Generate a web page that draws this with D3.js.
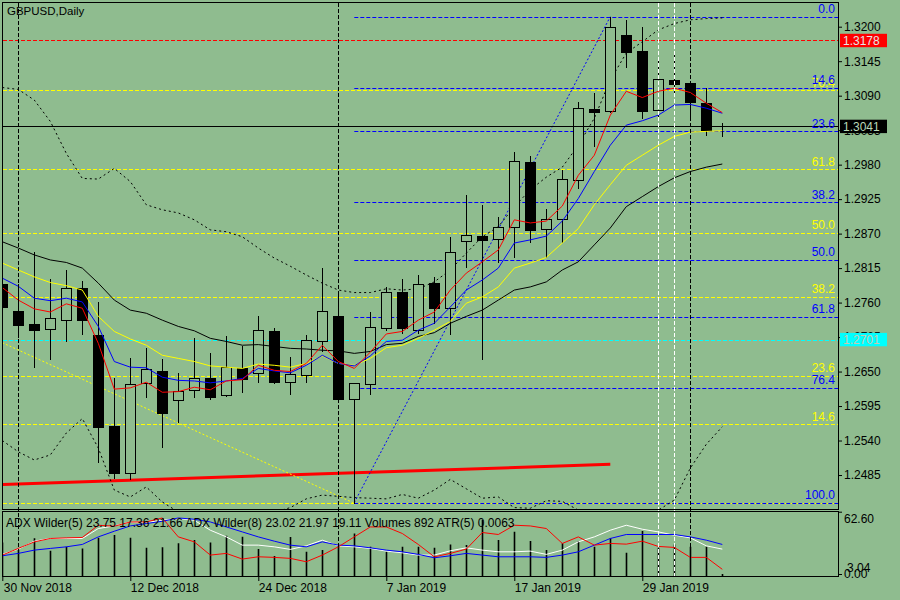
<!DOCTYPE html>
<html><head><meta charset="utf-8">
<script src="https://cdn.jsdelivr.net/npm/d3@7"></script>
<style>
html,body{margin:0;padding:0;background:#8FBC8F;}
svg{display:block;font-family:"Liberation Sans",Arial,sans-serif;}
</style></head><body>
<svg id="c" width="900" height="600"></svg>
<script>
// ---------------- DATA ----------------
const symbolTitle = "GBPUSD,Daily";
const dates = ["2018-11-30","2018-12-03","2018-12-04","2018-12-05","2018-12-06","2018-12-07","2018-12-10","2018-12-11","2018-12-12","2018-12-13","2018-12-14","2018-12-17","2018-12-18","2018-12-19","2018-12-20","2018-12-21","2018-12-24","2018-12-26","2018-12-27","2018-12-28","2018-12-31","2019-01-02","2019-01-03","2019-01-04","2019-01-07","2019-01-08","2019-01-09","2019-01-10","2019-01-11","2019-01-14","2019-01-15","2019-01-16","2019-01-17","2019-01-18","2019-01-21","2019-01-22","2019-01-23","2019-01-24","2019-01-25","2019-01-28","2019-01-29","2019-01-30","2019-01-31","2019-02-01","2019-02-04","2019-02-05"];
const open  = [1.2790,1.2747,1.2726,1.2718,1.2733,1.2784,1.2708,1.2563,1.2488,1.2631,1.2651,1.2604,1.2621,1.2640,1.2612,1.2656,1.2647,1.2715,1.2633,1.2644,1.2699,1.2739,1.2607,1.2630,1.2720,1.2777,1.2717,1.2791,1.2752,1.2858,1.2866,1.2861,1.2881,1.2985,1.2877,1.2893,1.2955,1.3068,1.3066,1.3187,1.3161,1.3067,1.3115,1.3110,1.3078,1.3041];
const high  = [1.2806,1.2790,1.2840,1.2798,1.2812,1.2795,1.2761,1.2640,1.2672,1.2688,1.2670,1.2647,1.2704,1.2679,1.2706,1.2691,1.2739,1.2719,1.2674,1.2708,1.2815,1.2775,1.2632,1.2745,1.2785,1.2797,1.2804,1.2801,1.2865,1.2932,1.2916,1.2897,1.3000,1.2994,1.2910,1.2971,1.3080,1.3094,1.3216,1.3211,1.3199,1.3145,1.3160,1.3112,1.3102,1.3046];
const low   = [1.2740,1.2705,1.2658,1.2670,1.2699,1.2710,1.2506,1.2480,1.2478,1.2610,1.2529,1.2570,1.2610,1.2607,1.2611,1.2618,1.2634,1.2631,1.2614,1.2634,1.2682,1.2605,1.2441,1.2615,1.2717,1.2711,1.2712,1.2727,1.2710,1.2817,1.2670,1.2824,1.2832,1.2857,1.2833,1.2856,1.2942,1.3010,1.3064,1.3136,1.3054,1.3051,1.3096,1.3058,1.3027,1.3026];
const close = [1.2753,1.2725,1.2716,1.2735,1.2784,1.2733,1.2562,1.2489,1.2630,1.2654,1.2584,1.2619,1.2639,1.2610,1.2657,1.2638,1.2717,1.2634,1.2646,1.2700,1.2746,1.2607,1.2631,1.2721,1.2777,1.2719,1.2789,1.2751,1.2840,1.2867,1.2860,1.2880,1.2986,1.2875,1.2893,1.2957,1.3070,1.3064,1.3199,1.3160,1.3066,1.3117,1.3109,1.3080,1.3035,1.3041];

const maRed    = [1.2784,1.2764,1.2750,1.2745,1.2758,1.2751,1.2695,1.2622,1.2624,1.2633,1.2617,1.2618,1.2625,1.2621,1.2635,1.2637,1.2660,1.2652,1.2650,1.2663,1.2692,1.2666,1.2655,1.2681,1.2710,1.2714,1.2732,1.2745,1.2780,1.2807,1.2825,1.2844,1.2892,1.2887,1.2890,1.2914,1.2963,1.2995,1.3059,1.3097,1.3087,1.3097,1.3102,1.3095,1.3078,1.3063];
const maBlue   = [1.2799,1.2786,1.2767,1.2763,1.2767,1.2761,1.2722,1.2666,1.2657,1.2656,1.2641,1.2636,1.2635,1.2632,1.2635,1.2639,1.2655,1.2651,1.2648,1.2660,1.2676,1.2663,1.2659,1.2675,1.2698,1.2700,1.2716,1.2727,1.2753,1.2780,1.2796,1.2815,1.2855,1.2860,1.2866,1.2890,1.2926,1.2969,1.3011,1.3043,1.3050,1.3059,1.3075,1.3076,1.3070,1.3062];
const maYellow = [1.2823,1.2812,1.2801,1.2792,1.2787,1.2780,1.2738,1.2714,1.2702,1.2692,1.2676,1.2671,1.2666,1.2659,1.2657,1.2655,1.2662,1.2660,1.2657,1.2663,1.2675,1.2663,1.2660,1.2671,1.2688,1.2692,1.2703,1.2716,1.2730,1.2759,1.2769,1.2785,1.2815,1.2823,1.2832,1.2855,1.2878,1.2916,1.2948,1.2979,1.2995,1.3011,1.3025,1.3032,1.3033,1.3034];
const maBlack  = [1.2857,1.2847,1.2836,1.2828,1.2824,1.2815,1.2791,1.2764,1.2748,1.2743,1.2732,1.2722,1.2715,1.2703,1.2698,1.2692,1.2693,1.2690,1.2687,1.2686,1.2684,1.2683,1.2679,1.2682,1.2693,1.2695,1.2706,1.2712,1.2727,1.2738,1.2748,1.2764,1.2780,1.2785,1.2793,1.2812,1.2825,1.2852,1.2879,1.2913,1.2929,1.2945,1.2959,1.2969,1.2976,1.2981];
const bandUpper = [1.3103,1.3100,1.3083,1.3049,1.2998,1.2958,1.2957,1.2974,1.2953,1.2916,1.2908,1.2903,1.2892,1.2876,1.2873,1.2865,1.2847,1.2831,1.2818,1.2804,1.2791,1.2780,1.2776,1.2776,1.2782,1.2780,1.2782,1.2793,1.2812,1.2839,1.2865,1.2881,1.2913,1.2940,1.2960,1.2976,1.3011,1.3054,1.3115,1.3158,1.3176,1.3195,1.3205,1.3211,1.3213,1.3214];
const bandLower = [1.2540,1.2522,1.2509,1.2517,1.2552,1.2575,1.2528,1.2461,1.2450,1.2466,1.2442,1.2426,1.2420,1.2415,1.2413,1.2413,1.2418,1.2426,1.2433,1.2447,1.2453,1.2451,1.2449,1.2448,1.2447,1.2454,1.2448,1.2461,1.2478,1.2463,1.2448,1.2450,1.2433,1.2432,1.2444,1.2443,1.2429,1.2424,1.2420,1.2420,1.2421,1.2429,1.2445,1.2496,1.2534,1.2562];

const volumes = [15000,11600,16800,11300,13100,12300,17100,18300,17100,12600,12800,14600,16100,15000,18000,17500,12000,8900,17400,10800,11600,13800,19000,13100,10800,13100,13100,12600,14100,13800,25000,16100,19800,15600,11600,14600,15600,13100,16800,10400,20100,12600,14100,13100,13100,892];
const indBlue  = [18.3,20.7,24,25.7,27.3,29.7,37.3,43,48.3,50.7,53,56.3,55,52.3,47.3,42.3,37.3,33,29,27.3,32.3,29,28.3,26.3,24,22.3,19.7,16.3,18.3,20.7,19,17.3,17.3,17.3,16.7,19,22.3,29,35.7,39.7,39.7,39.7,39.7,37.3,34,29.7];
const indWhite = [19.7,25,33,35.7,35.7,35.7,45.7,48.3,52.3,51.7,54,55.7,54,44,37.3,29,29,27.3,24.7,28.3,34,28.3,27.3,25.7,23,21.3,19,19,23.3,26.3,24,22.3,22.3,23,19.7,24,32.3,37.3,44,49,45,42.3,39,36.3,28.3,25];
const indRed   = [19,25.7,32.3,35.7,36.3,36.7,49,48,52.3,52.3,56.3,37.3,32.3,19,20.7,15,17.3,16.7,15.7,12.3,19,27.3,37.3,47.3,47.3,40.7,29.7,17.3,20.7,25,41.7,39.7,49,48.3,45.7,30.7,37.3,29,30.7,30,33,27.7,26.7,16.7,16.7,4.7];
const adx5Values = [23.75, 17.36, 21.66];
const adx8Values = [23.02, 21.97, 19.11];
const lastVolume = 892;
const atr5Value = 0.0063;

const priceTicks = [1.3200,1.3145,1.3090,1.3035,1.2980,1.2925,1.2870,1.2815,1.2760,1.2705,1.2650,1.2595,1.2540,1.2485];
const indTicks = [62.60, 0.00];
const indExtraTick = [3.04];
const dateTicks = ["2018-11-30","2018-12-12","2018-12-24","2019-01-07","2019-01-17","2019-01-29"];

const fibLevels = [0.0, 14.6, 23.6, 38.2, 50.0, 61.8, 76.4, 100.0];
const blueFib = {startDate:"2019-01-03", high:1.3216, low:1.2441};
const yellowFibLevels = [14.6, 23.6, 38.2, 50.0, 61.8, 76.4, 0.0];
const yellowFib = {low:1.2440, high:1.3302};
const redTrendDates = ["2018-11-30","2019-01-25"], redTrendPrices = [1.2470, 1.2502];
const yellowTrendDates = ["2018-11-30","2019-01-03"], yellowTrendPrices = [1.2696, 1.2440];
const blueTrendDates = ["2019-01-03","2019-01-25"], blueTrendPrices = [1.2441, 1.3216];
const vLinesBlack = ["2018-12-03","2019-01-02","2019-02-01"];
const vLinesWhite = ["2019-01-30","2019-01-31"];
const resistancePrice = 1.3178, bidPrice = 1.3041, supportPrice = 1.2701;

// ---------------- LAYOUT ----------------
const L = 3, R = 838, mTop = 3, mBot = 509, sTop = 511.5, sBot = 576;
const BG = "#8FBC8F";
const svg = d3.select("#c");
svg.append("rect").attr("width",900).attr("height",600).attr("fill",BG);

const x = d3.scalePoint().domain(dates).range([2.3, 722.3]);
const y = d3.scaleLinear().domain([1.24308, 1.32378]).range([mBot, mTop]);
const yInd = d3.scaleLinear().domain([0, 62.6]).range([574, 511.7]);
const yVol = d3.scaleLinear().domain([0, 28700]).range([sBot, 511.7]);

const defs = svg.append("defs");
defs.append("clipPath").attr("id","mclip").append("rect").attr("x",L).attr("y",mTop).attr("width",R-L).attr("height",mBot-mTop);
defs.append("clipPath").attr("id","sclip").append("rect").attr("x",L).attr("y",sTop).attr("width",R-L).attr("height",sBot-sTop);

const main = svg.append("g").attr("clip-path","url(#mclip)");
const sub = svg.append("g").attr("clip-path","url(#sclip)");

function hline(g, price, color, dash, x0){
  g.append("line").attr("x1",x0===undefined?L:x0).attr("x2",R)
   .attr("y1",Math.round(y(price))+0.5).attr("y2",Math.round(y(price))+0.5)
   .attr("stroke",color).attr("stroke-width",1).attr("stroke-dasharray",dash||null);
}

// yellow fib levels (anchored before visible window)
yellowFibLevels.forEach(l=>{
  hline(main, yellowFib.low + l/100*(yellowFib.high-yellowFib.low), "#ffff00", "4,2");
});
// blue fib levels
const bx0 = x(blueFib.startDate);
fibLevels.forEach(l=>{
  hline(main, blueFib.high - l/100*(blueFib.high-blueFib.low), "#0000ff", "4,2", bx0);
});
hline(main, resistancePrice, "#ff0000", "4,2");
hline(main, supportPrice, "#00ffff", "4,2");

// trend lines
function trend(dts, prs, color, w, dash){
  main.append("line").attr("x1",x(dts[0])).attr("y1",y(prs[0])).attr("x2",x(dts[1])).attr("y2",y(prs[1]))
   .attr("stroke",color).attr("stroke-width",w).attr("stroke-dasharray",dash||null);
}
trend(redTrendDates, redTrendPrices, "#ff0000", 3);
trend(yellowTrendDates, yellowTrendPrices, "#ffff00", 1, "2,2");
trend(blueTrendDates, blueTrendPrices, "#0000ff", 1, "2,2");

// vertical lines (both panels)
function vline(d, color){
  const xx = Math.round(x(d))+0.5;
  svg.append("line").attr("x1",xx).attr("x2",xx).attr("y1",mTop).attr("y2",sBot)
   .attr("stroke",color).attr("stroke-width",1).attr("stroke-dasharray","4,2");
}
vLinesBlack.forEach(d=>vline(d,"#000"));
vLinesWhite.forEach(d=>vline(d,"#fff"));

// bands
const lineGen = d3.line().x((d,i)=>x(dates[i])).y(d=>y(d));
[bandUpper, bandLower].forEach(arr=>{
  main.append("path").attr("d",lineGen(arr)).attr("fill","none").attr("stroke","#000")
    .attr("stroke-width",1).attr("stroke-dasharray","2,3");
});

// candles
const cg = main.append("g").attr("shape-rendering","crispEdges");
dates.forEach((d,i)=>{
  const cx = Math.round(x(d));
  const o=open[i], c=close[i];
  cg.append("line").attr("x1",cx+0.5).attr("x2",cx+0.5).attr("y1",Math.round(y(high[i]))).attr("y2",Math.round(y(low[i]))+1)
    .attr("stroke","#000").attr("stroke-width",1);
  const t = Math.round(y(Math.max(o,c))), b = Math.round(y(Math.min(o,c)));
  cg.append("rect").attr("x",cx-4.5).attr("y",t+0.5).attr("width",10).attr("height",Math.max(0,b-t))
    .attr("fill", c<o ? "#000" : BG).attr("stroke","#000").attr("stroke-width",1);
});

// moving averages
[[maBlack,"#000000"],[maYellow,"#ffff00"],[maBlue,"#0000ff"],[maRed,"#ff0000"]].forEach(([arr,col])=>{
  main.append("path").attr("d",lineGen(arr)).attr("fill","none").attr("stroke",col).attr("stroke-width",1);
});

// bid line
hline(main, bidPrice, "#000", null);

// fib labels
function fibLabel(price, txt, color){
  svg.append("text").attr("x",835).attr("y",y(price)-3.5).attr("text-anchor","end")
    .attr("font-size",12).attr("fill",color).text(txt);
}
yellowFibLevels.filter(l=>l>0).forEach(l=>fibLabel(yellowFib.low + l/100*(yellowFib.high-yellowFib.low), l.toFixed(1), "#ffff00"));
fibLevels.forEach(l=>fibLabel(blueFib.high - l/100*(blueFib.high-blueFib.low), l.toFixed(1), "#0000ff"));

// title
svg.append("text").attr("x",7).attr("y",15).attr("font-size",11.5).attr("fill","#000").text(symbolTitle);

// ---------------- SUB PANEL ----------------
const vg = sub.append("g");
dates.forEach((d,i)=>{
  const cx = Math.round(x(d))+0.5;
  vg.append("line").attr("x1",cx).attr("x2",cx).attr("y1",yVol(0)).attr("y2",yVol(volumes[i]))
    .attr("stroke","#000").attr("stroke-width",1.6);
});
const indLine = d3.line().x((d,i)=>x(dates[i])).y(d=>yInd(d));
[[indWhite,"#ffffff"],[indBlue,"#0000ff"],[indRed,"#ff0000"]].forEach(([arr,col])=>{
  sub.append("path").attr("d",indLine(arr)).attr("fill","none").attr("stroke",col).attr("stroke-width",1);
});
svg.append("text").attr("x",6).attr("y",526.5).attr("font-size",12).attr("fill","#000")
  .text(`ADX Wilder(5) ${adx5Values.map(v=>v.toFixed(2)).join(" ")} ADX Wilder(8) ${adx8Values.map(v=>v.toFixed(2)).join(" ")} Volumes ${lastVolume} ATR(5) ${atr5Value.toFixed(4)}`);

// ---------------- FRAMES & AXES ----------------
const fr = svg.append("g").attr("fill","none").attr("stroke","#000").attr("shape-rendering","crispEdges");
fr.append("rect").attr("x",L-0.5).attr("y",mTop-0.5).attr("width",R-L+0.5).attr("height",mBot-mTop+0.5);
fr.append("rect").attr("x",L-0.5).attr("y",sTop).attr("width",R-L+0.5).attr("height",sBot-sTop);

const yAxis = d3.axisRight(y).tickValues(priceTicks).tickFormat(d3.format(".4f")).tickSize(4).tickPadding(2);
const ga = svg.append("g").attr("transform",`translate(${R},0)`).call(yAxis);
ga.select(".domain").remove();
ga.selectAll("text").attr("font-size",12).attr("font-family","Liberation Sans, Arial, sans-serif").attr("fill","#000");
ga.selectAll("line").attr("stroke","#000");

const iAxis = d3.axisRight(yInd).tickValues(indTicks).tickFormat(d3.format(".2f")).tickSize(4).tickPadding(2);
const gi = svg.append("g").attr("transform",`translate(${R},0)`).call(iAxis);
gi.select(".domain").remove();
gi.selectAll("text").attr("font-size",12).attr("font-family","Liberation Sans, Arial, sans-serif").attr("fill","#000");
gi.selectAll("line").attr("stroke","#000");
gi.selectAll(".tick").filter(d=>d===62.6).select("text").attr("dy","0.9em");
indExtraTick.forEach(v=>{
  svg.append("text").attr("x",847).attr("y",yInd(v)+1.5).attr("font-size",12).attr("fill","#000").text(v.toFixed(2));
});

const parse = d3.timeParse("%Y-%m-%d"), fmt = d3.timeFormat("%-d %b %Y");
const xAxis = d3.axisBottom(x).tickValues(dateTicks).tickFormat(d=>fmt(parse(d))).tickSize(5).tickPadding(2);
const gx = svg.append("g").attr("transform",`translate(0,${sBot})`).call(xAxis);
gx.select(".domain").remove();
gx.selectAll("text").attr("text-anchor","start").attr("font-size",12).attr("font-family","Liberation Sans, Arial, sans-serif").attr("fill","#000");
gx.selectAll("text").filter(d=>d===dateTicks[0]).attr("x",1);
gx.selectAll("line").attr("stroke","#000");

// price markers
[[resistancePrice,"#ff0000","#e6e6e6"],[bidPrice,"#000000","#b8d8b8"],[supportPrice,"#00ffff","#c8c8b0"]].forEach(([p,fill,tc])=>{
  const yy = y(p);
  svg.append("rect").attr("x",840).attr("y",yy-6.7).attr("width",47).attr("height",13.4).attr("fill",fill);
  svg.append("text").attr("x",843).attr("y",yy+4.3).attr("font-size",12).attr("fill",tc).text(p.toFixed(4));
});
</script>
</body></html>
